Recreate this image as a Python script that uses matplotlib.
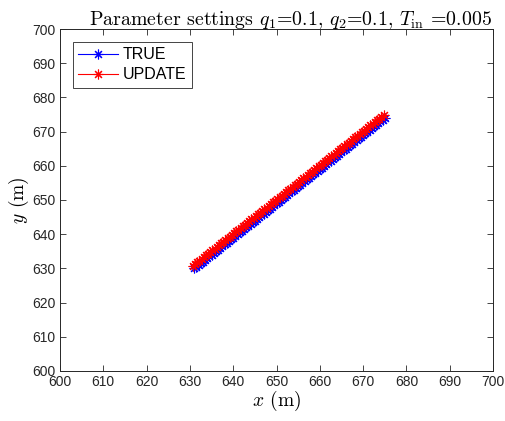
import matplotlib.pyplot as plt
import numpy as np

plt.rcParams['font.family'] = ['Liberation Sans', 'DejaVu Sans']
plt.rcParams['mathtext.fontset'] = 'cm'

# trajectory (dense points, ~0.5 m apart)
true_x = [631.0, 631.5, 632.0, 632.5, 633.0, 633.5, 634.0, 634.5, 635.0, 635.5,
          636.0, 636.5, 637.0, 637.5, 638.0, 638.5, 639.0, 639.5, 640.0, 640.5,
          641.0, 641.5, 642.0, 642.5, 643.0, 643.5, 644.0, 644.5, 645.0, 645.5,
          646.0, 646.5, 647.0, 647.5, 648.0, 648.5, 649.0, 649.5, 650.0, 650.5,
          651.0, 651.5, 652.0, 652.5, 653.0, 653.5, 654.0, 654.5, 655.0, 655.5,
          656.0, 656.5, 657.0, 657.5, 658.0, 658.5, 659.0, 659.5, 660.0, 660.5,
          661.0, 661.5, 662.0, 662.5, 663.0, 663.5, 664.0, 664.5, 665.0, 665.5,
          666.0, 666.5, 667.0, 667.5, 668.0, 668.5, 669.0, 669.5, 670.0, 670.5,
          671.0, 671.5, 672.0, 672.5, 673.0, 673.5, 674.0, 674.5, 675.0]
true_y = [630.0, 630.5, 631.0, 631.5, 632.0, 632.5, 633.0, 633.5, 634.0, 634.5,
          635.0, 635.5, 636.0, 636.5, 637.0, 637.5, 638.0, 638.5, 639.0, 639.5,
          640.0, 640.5, 641.0, 641.5, 642.0, 642.5, 643.0, 643.5, 644.0, 644.5,
          645.0, 645.5, 646.0, 646.5, 647.0, 647.5, 648.0, 648.5, 649.0, 649.5,
          650.0, 650.5, 651.0, 651.5, 652.0, 652.5, 653.0, 653.5, 654.0, 654.5,
          655.0, 655.5, 656.0, 656.5, 657.0, 657.5, 658.0, 658.5, 659.0, 659.5,
          660.0, 660.5, 661.0, 661.5, 662.0, 662.5, 663.0, 663.5, 664.0, 664.5,
          665.0, 665.5, 666.0, 666.5, 667.0, 667.5, 668.0, 668.5, 669.0, 669.5,
          670.0, 670.5, 671.0, 671.5, 672.0, 672.5, 673.0, 673.5, 674.0]
upd_x = [630.7, 631.2, 631.7, 632.2, 632.7, 633.2, 633.7, 634.2, 634.7, 635.2,
         635.7, 636.2, 636.7, 637.2, 637.7, 638.2, 638.7, 639.2, 639.7, 640.2,
         640.7, 641.2, 641.7, 642.2, 642.7, 643.2, 643.7, 644.2, 644.7, 645.2,
         645.7, 646.2, 646.7, 647.2, 647.7, 648.2, 648.7, 649.2, 649.7, 650.2,
         650.7, 651.2, 651.7, 652.2, 652.7, 653.2, 653.7, 654.2, 654.7, 655.2,
         655.7, 656.2, 656.7, 657.2, 657.7, 658.2, 658.7, 659.2, 659.7, 660.2,
         660.7, 661.2, 661.7, 662.2, 662.7, 663.2, 663.7, 664.2, 664.7, 665.2,
         665.7, 666.2, 666.7, 667.2, 667.7, 668.2, 668.7, 669.2, 669.7, 670.2,
         670.7, 671.2, 671.7, 672.2, 672.7, 673.2, 673.7, 674.2, 674.8]
upd_y = [630.8, 631.3, 631.8, 632.3, 632.8, 633.3, 633.8, 634.3, 634.8, 635.3,
         635.8, 636.3, 636.8, 637.3, 637.8, 638.3, 638.8, 639.3, 639.8, 640.3,
         640.8, 641.3, 641.8, 642.3, 642.8, 643.3, 643.8, 644.3, 644.8, 645.3,
         645.8, 646.3, 646.8, 647.3, 647.8, 648.3, 648.8, 649.3, 649.8, 650.3,
         650.8, 651.3, 651.8, 652.3, 652.8, 653.3, 653.8, 654.3, 654.8, 655.3,
         655.8, 656.3, 656.8, 657.3, 657.8, 658.3, 658.8, 659.3, 659.8, 660.3,
         660.8, 661.3, 661.8, 662.3, 662.8, 663.3, 663.8, 664.3, 664.8, 665.3,
         665.8, 666.3, 666.8, 667.3, 667.8, 668.3, 668.8, 669.3, 669.8, 670.3,
         670.8, 671.3, 671.8, 672.3, 672.8, 673.3, 673.8, 674.3, 674.9]

fig = plt.figure(figsize=(5.06, 4.21), dpi=100)
ax = fig.add_axes([0.1186, 0.1188, 0.8557, 0.8123])

star = (8, 2, 0)  # matlab style asterisk
ax.plot(true_x, true_y, '-', marker=star, color='#0000ff', lw=0.8, ms=7, mew=0.8, label='TRUE')
ax.plot(upd_x, upd_y, '-', marker=star, color='#ff0000', lw=0.8, ms=7, mew=0.8, label='UPDATE')

ax.set_xlim(600, 700)
ax.set_ylim(600, 700)
ax.set_xticks(np.arange(600, 701, 10))
ax.set_yticks(np.arange(600, 701, 10))
ax.tick_params(direction='in', top=True, right=True, labelsize=10, length=4, width=0.6,
               colors='#262626', pad=3)
for s in ax.spines.values():
    s.set_linewidth(0.7)
    s.set_color('#262626')

ax.set_title(r'Parameter settings $q_1$=0.1, $q_2$=0.1, $T_{\rm in}$ =0.005',
             fontfamily='cmr10', fontsize=14.3, pad=3, x=0.533)
ax.set_xlabel(r'$x$ (m)', fontfamily='cmr10', fontsize=14, labelpad=0)
ax.set_ylabel(r'$y$ (m)', fontfamily='cmr10', fontsize=14, labelpad=1)

leg = ax.legend(loc='upper left', fontsize=11.5, fancybox=False, edgecolor='#262626',
                framealpha=1, borderaxespad=0.8, handlelength=2.5, borderpad=0.35,
                labelspacing=0.3, handletextpad=0.25)
leg.get_frame().set_linewidth(0.6)

fig.savefig('out.png', dpi=100)
